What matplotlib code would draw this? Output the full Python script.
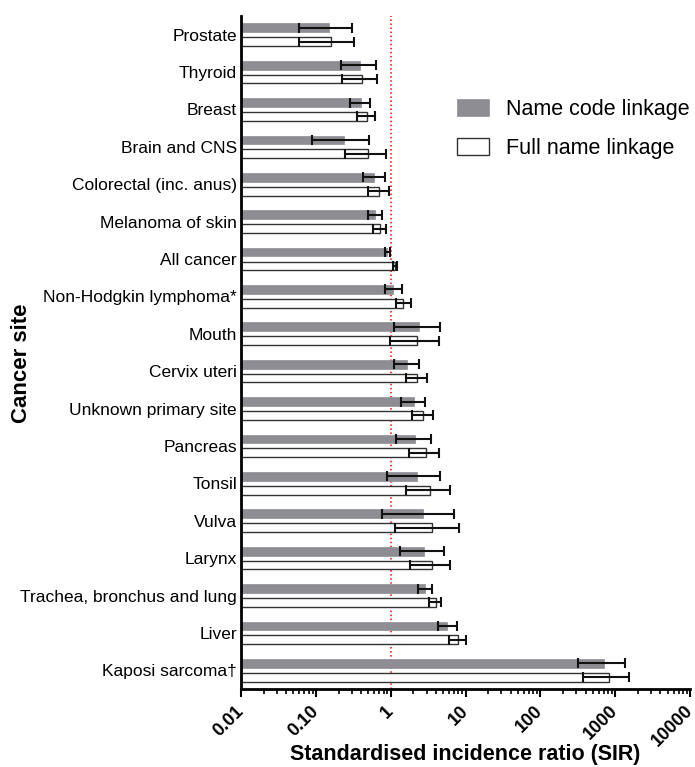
import matplotlib.pyplot as plt
import matplotlib.ticker as mticker
import numpy as np

plt.rcParams["font.family"] = ["Liberation Sans", "DejaVu Sans"]

GREY = "#8e8d93"
LABEL_FONT = 12.5
TITLE_FONT = 15.5
LEGEND_FONT = 15.5

sites = [
    "Prostate",
    "Thyroid",
    "Breast",
    "Brain and CNS",
    "Colorectal (inc. anus)",
    "Melanoma of skin",
    "All cancer",
    "Non-Hodgkin lymphoma*",
    "Mouth",
    "Cervix uteri",
    "Unknown primary site",
    "Pancreas",
    "Tonsil",
    "Vulva",
    "Larynx",
    "Trachea, bronchus and lung",
    "Liver",
    "Kaposi sarcoma\u2020",
]

# name code linkage: SIR with 95% CI
code_sir = [0.15, 0.39, 0.40, 0.24, 0.60, 0.615, 0.90, 1.08, 2.40, 1.66,
            2.04, 2.12, 2.24, 2.72, 2.77, 2.86, 5.69, 702]
code_lo = [0.059, 0.216, 0.285, 0.088, 0.43, 0.50, 0.845, 0.83, 1.09, 1.10,
           1.38, 1.19, 0.88, 0.755, 1.34, 2.33, 4.22, 319]
code_hi = [0.30, 0.63, 0.52, 0.51, 0.84, 0.76, 0.975, 1.41, 4.54, 2.36,
           2.89, 3.44, 4.54, 6.98, 5.20, 3.58, 7.57, 1340]

# full name linkage: SIR with 95% CI
full_sir = [0.158, 0.41, 0.48, 0.50, 0.70, 0.71, 1.13, 1.47, 2.24, 2.24,
            2.72, 2.92, 3.33, 3.55, 3.55, 3.98, 7.89, 819]
full_lo = [0.059, 0.225, 0.35, 0.247, 0.50, 0.58, 1.06, 1.17, 0.97, 1.60,
           1.94, 1.77, 1.60, 1.13, 1.80, 3.26, 6.03, 368]
full_hi = [0.32, 0.66, 0.62, 0.87, 0.95, 0.87, 1.20, 1.86, 4.44, 3.04,
           3.70, 4.44, 6.10, 8.20, 6.17, 4.73, 10.2, 1530]

x_ticks = [0.01, 0.1, 1, 10, 100, 1000, 10000]
x_tick_labels = ["0.01", "0.10", "1", "10", "100", "1000", "10000"]


def draw_series(ax, pos, sir, lo, hi, label, **bar_kw):
    sir = np.asarray(sir)
    start = x_ticks[0]
    ax.barh(pos, sir - start, left=start, height=0.235, label=label, **bar_kw)
    xerr = [sir - np.asarray(lo), np.asarray(hi) - sir]
    ax.errorbar(sir, pos, xerr=xerr, fmt="none", ecolor="#111111",
                elinewidth=1.5, capsize=3.5, capthick=1.5, zorder=4)


fig = plt.figure(figsize=(6.95, 7.67), dpi=100)
ax = fig.add_axes([0.347, 0.1017, 0.646, 0.8775])

y = np.arange(len(sites))
draw_series(ax, y - 0.185, code_sir, code_lo, code_hi, "Name code linkage",
            color=GREY, edgecolor=GREY, linewidth=0.5, zorder=2)
draw_series(ax, y + 0.185, full_sir, full_lo, full_hi, "Full name linkage",
            facecolor="white", edgecolor="#333333", linewidth=1.0, zorder=2)

ax.axvline(1, color="red", linestyle=":", linewidth=1.1, zorder=1)

ax.set_xscale("log")
ax.set_xlim(x_ticks[0], x_ticks[-1])
ax.set_ylim(len(sites) - 0.5, -0.5)

ax.set_xticks(x_ticks)
ax.set_xticklabels(x_tick_labels, rotation=45, ha="right", va="center",
                   rotation_mode="anchor", fontsize=13, fontweight="bold")
ax.xaxis.set_minor_locator(mticker.LogLocator(base=10, subs=np.arange(2, 10)))
ax.xaxis.set_minor_formatter(mticker.NullFormatter())
ax.tick_params(axis="x", which="major", length=6, width=1.5, pad=8)
ax.tick_params(axis="x", which="minor", length=3.5, width=1.2)

ax.set_yticks(y)
ax.set_yticklabels(sites, fontsize=LABEL_FONT)
ax.tick_params(axis="y", length=0, pad=3)

for side in ["top", "right"]:
    ax.spines[side].set_visible(False)
for side in ["left", "bottom"]:
    ax.spines[side].set_linewidth(2)

ax.set_xlabel("Standardised incidence ratio (SIR)", fontsize=TITLE_FONT,
              fontweight="bold")
ax.xaxis.set_label_coords(0.5, -0.081)
ax.set_ylabel("Cancer site", fontsize=TITLE_FONT + 0.5, fontweight="bold")
ax.yaxis.set_label_coords(-0.465, 0.484)

ax.legend(loc="upper left", bbox_to_anchor=(0.481, 0.877), frameon=False,
          fontsize=LEGEND_FONT, handlelength=1.5, handleheight=0.85,
          handletextpad=0.75, labelspacing=0.85, borderpad=0, borderaxespad=0)

fig.savefig("out.png", dpi=100)
plt.close(fig)
